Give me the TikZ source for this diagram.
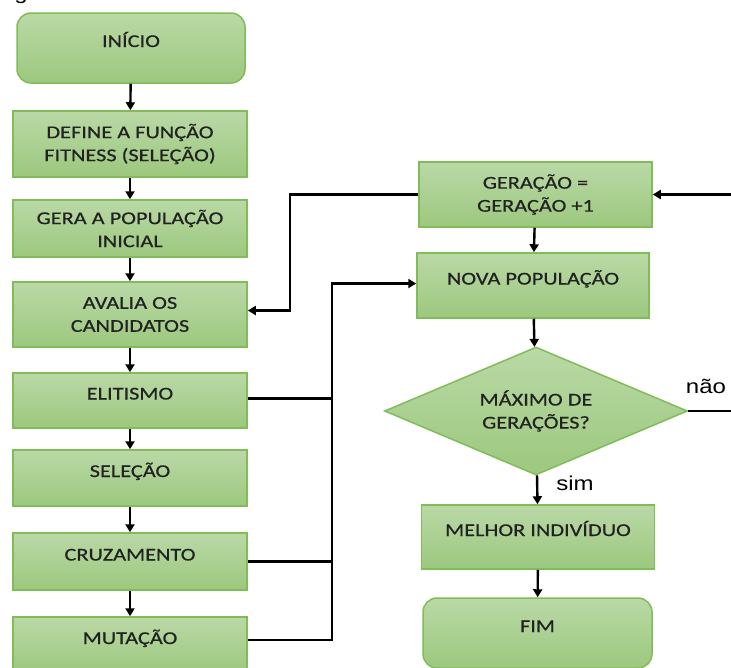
\documentclass[tikz,border=0pt]{standalone}
\usepackage{fontspec}
\setmainfont{Carlito}[FakeStretch=1.24,FakeBold=0.6]
\newfontfamily\labelfont{Liberation Sans}[FakeStretch=1.2]
\usepackage{xcolor}
\usepackage{tikz}
\usetikzlibrary{shapes.geometric}
\usetikzlibrary{arrows.meta}
\definecolor{boxtop}{RGB}{186,217,166}
\definecolor{boxbot}{RGB}{156,200,126}
\definecolor{boxline}{RGB}{128,188,88}
\definecolor{boxtext}{RGB}{34,34,34}

\begin{document}
\begin{tikzpicture}[
  x=1pt, y=-1pt,
  blk/.style={draw=boxline, line width=1.5pt, top color=boxtop, bottom color=boxbot,
    minimum width=234pt, inner sep=0pt, align=center,
    text=boxtext, font=\fontsize{18}{23}\selectfont},
  onerow/.style={text height=12pt, text depth=14pt},
  term/.style={blk, rounded corners=14pt, minimum width=228pt, minimum height=70pt, onerow},
  dec/.style={blk, diamond, aspect=2.37, minimum width=303pt, minimum height=128pt},
  conn/.style={line width=2.4pt},
  arr/.style={conn, -{Triangle[length=8pt,width=9pt]}},
  lbl/.style={font=\labelfont\fontsize{20}{24}\selectfont},
]
\clip (0,0) rectangle (731,667);

% left column
\node [term] (start) at (131,48) {INÍCIO};
\node [blk, minimum height=66pt] (fit) at (130,144) {DEFINE A FUNÇÃO\\FITNESS (SELEÇÃO)};
\node [blk, minimum height=57pt] (pop) at (130,228.5) {GERA A POPULAÇÃO\\INICIAL};
\node [blk, minimum height=65pt] (aval) at (130,314.5) {AVALIA OS\\CANDIDATOS};
\node [blk, onerow, minimum height=55pt] (elit) at (130,400.5) {ELITISMO};
\node [blk, onerow, minimum height=56pt] (sel) at (130,478) {SELEÇÃO};
\node [blk, onerow, minimum height=57pt] (cruz) at (130,561.5) {CRUZAMENTO};
\node [blk, onerow, minimum height=56pt] (mut) at (130,645) {MUTAÇÃO};

% right column
\node [blk, minimum width=233pt, minimum height=65pt] (ger) at (535.5,194.5) {GERAÇÃO =\\GERAÇÃO +1};
\node [blk, onerow, minimum width=232pt, minimum height=65pt] (nova) at (533,285.5) {NOVA POPULAÇÃO};
\node [dec] (maxg) at (536,411) {MÁXIMO DE\\GERAÇÕES?};
\node [blk, onerow, minimum width=233pt, minimum height=64pt] (best) at (538,537) {MELHOR INDIVÍDUO};
\node [term, minimum width=229pt] (stop) at (537.5,633) {FIM};

\node [lbl, anchor=base] (no) at (706,393) {não};
\node [lbl, anchor=base] (yes) at (575,490) {sim};
\node [lbl, anchor=base] (frag) at (21,-1) {g};

\coordinate (bus) at (332,0);
\coordinate (back) at (290,0);
\coordinate (edge) at (745,0);

\draw [arr] (start) -- (fit);
\draw [arr] (fit) -- (pop);
\draw [arr] (pop) -- (aval);
\draw [arr] (aval) -- (elit);
\draw [arr] (elit) -- (sel);
\draw [arr] (sel) -- (cruz);
\draw [arr] (cruz) -- (mut);

% operators feed the new population
\draw [conn] ([yshift=2pt]elit.east) -- ([yshift=2pt]elit.east -| bus);
\draw [conn] (cruz.east) -- (cruz.east -| bus);
\draw [arr] ([yshift=5pt]mut.east) -| ([yshift=2pt]bus |- nova.west) -- ([yshift=2pt]nova.west);

\draw [arr] (ger) -- (nova);
\draw [arr] (nova) -- (maxg);
\draw [arr] (maxg) -- (best);
\draw [arr] (best) -- (stop);

% loop back
\draw [arr] (ger.west) -| ([yshift=4pt]back |- aval.east) -- ([yshift=4pt]aval.east);
\draw [arr] (maxg.east) -| (edge |- ger.east) -- (ger.east);
\end{tikzpicture}
\end{document}
